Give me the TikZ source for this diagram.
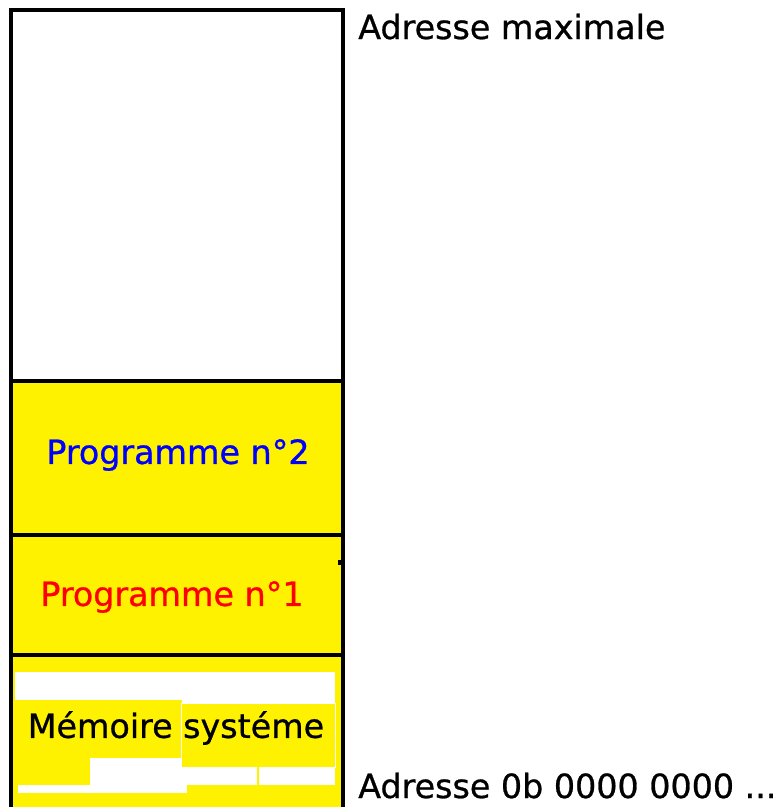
\documentclass[tikz,border=0pt]{standalone}
\usepackage{fontspec}
\setmainfont{DejaVu Sans}[FakeBold=0.8]
\begin{document}
\begin{tikzpicture}[x=0.75pt,y=-0.75pt,
  frame/.style={line width=2.4pt},
  lbl/.style={font=\fontsize{25}{29}\selectfont, inner sep=0pt},
  patch/.style={fill=white}
]
\useasboundingbox (0,0) rectangle (780,807);
% filled memory areas
\fill[yellow] (11,381) rectangle (343,807);
% white artefacts in the system memory area
\fill[patch] (15,672) rectangle (335,700);
\fill[patch] (182,700) rectangle (335,703);
\fill[patch] (90,758) rectangle (182,785);
\fill[patch] (182,767) rectangle (335,785);
\fill[patch] (18,785) rectangle (187,793);
\draw[white, line width=0.5pt] (181,703) rectangle (335,767);
\draw[yellow, line width=0.8pt] (258,767) -- (258,785);
% frame
\coordinate (bl) at (11,807);
\coordinate (tl) at (11,10);
\coordinate (tr) at (343,10);
\coordinate (br) at (343,807);
\draw[frame] (bl) -- (tl) -- (tr) -- (br);
\coordinate (a1) at (11,381); \coordinate (b1) at (343,381);
\coordinate (a2) at (11,535); \coordinate (b2) at (343,535);
\coordinate (a3) at (11,655); \coordinate (b3) at (343,655);
\draw[frame] (a1) -- (b1);
\draw[frame] (a2) -- (b2);
\draw[frame] (a3) -- (b3);
\fill (338,560) rectangle (342,565);
% labels
\node[lbl, anchor=base west] (amax) at (358,39) {Adresse maximale};
\node[lbl, anchor=base west] (amin) at (358,798) {Adresse 0b 0000 0000 ...};
\node[lbl, text=blue] (p2) at (178,455) {Programme n°2};
\node[lbl, text=red] (p1) at (172,597) {Programme n°1};
\node[lbl] (sys) at (176,728) {Mémoire systéme};
\end{tikzpicture}
\end{document}
